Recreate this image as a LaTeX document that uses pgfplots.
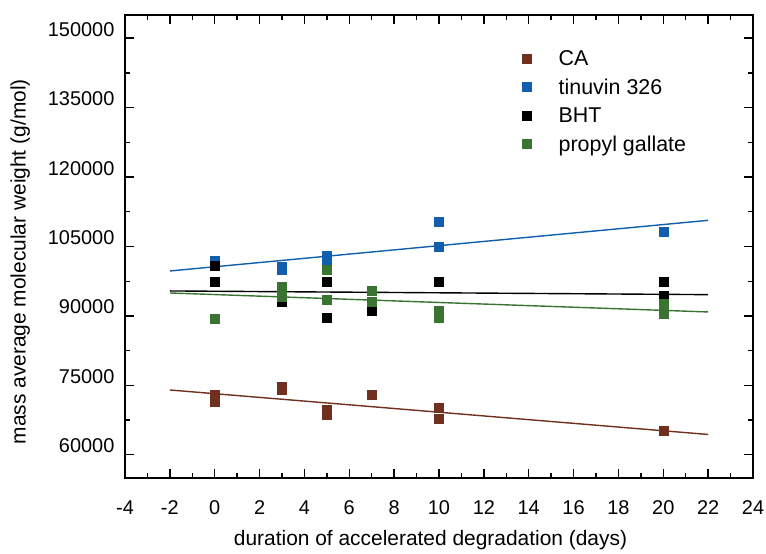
\documentclass[border=0pt]{standalone}
\usepackage{pgfplots}
\pgfplotsset{compat=1.18}
\usepackage{fontspec}
\setmainfont{Liberation Sans}

\definecolor{caBrown}{RGB}{112,48,30}
\definecolor{tinBlue}{RGB}{16,94,172}
\definecolor{pgGreen}{RGB}{58,115,50}

\newcommand{\legtxt}[1]{\rule[-7bp]{0pt}{27.7bp}#1}
% y tick labels sit a little above their ticks in the original
\newcommand{\ylab}[1]{\node[anchor=base east, inner sep=0pt, font=\fontsize{20}{24}\selectfont]
  at ([xshift=-10bp,yshift=2bp]axis cs:-4,#1) {#1};}

\begin{document}
\begin{tikzpicture}
\begin{axis}[
  scale only axis, width=628bp, height=463bp,
  xmin=-4, xmax=24, ymin=55000, ymax=155000,
  xtick={-4,-2,...,24}, minor x tick num=1,
  xticklabels={-4,-2,0,2,4,6,8,10,12,14,16,18,20,22,24},
  ytick={60000,75000,...,150000}, minor y tick num=1,
  yticklabels={},
  scaled y ticks=false, scaled x ticks=false,
  tick align=inside,
  major tick length=9bp, minor tick length=5bp,
  every axis/.append style={line width=1.3bp},
  axis line style={line width=1.3bp},
  major tick style={black, line width=1.3bp},
  minor tick style={black, line width=1.3bp},
  tick label style={font=\fontsize{20}{24}\selectfont},
  xticklabel style={anchor=north, inner xsep=0pt, inner ysep=22bp},
  label style={font=\fontsize{21}{25}\selectfont},
  xlabel={duration of accelerated degradation (days)},
  ylabel={mass average molecular weight (g/mol)},
  xlabel style={at={(axis description cs:0.4865,-0.134)}, anchor=center},
  ylabel style={at={(axis description cs:-0.167,0.467)}, anchor=center},
  legend cell align=left,
  legend image code/.code={
    \node[inner sep=0pt, minimum width=9bp, minimum height=27.7bp] at (4.5bp,6.85bp) {};
    \draw[#1] plot coordinates {(4.5bp,-2bp)};},
  legend style={at={(axis description cs:0.632,0.957)}, anchor=north west,
    draw=none, fill=none, inner sep=0pt, row sep=-3.3bp, column sep=22bp,
    nodes={inner sep=0pt},
    font=\fontsize{21.5}{25}\selectfont},
  clip=false,
]
% measured points
\addplot[only marks, mark=square*, mark size=4.5bp, color=caBrown, mark options={line width=0.3bp}]
  coordinates {(0,72930) (0,71420) (3,74660) (3,74010) (5,69690) (5,68610)
               (7,72930) (10,70120) (10,67740) (20,65150)};
\addlegendentry{\legtxt{CA}}
\addplot[only marks, mark=square*, mark size=4.5bp, color=tinBlue, mark options={line width=0.3bp}]
  coordinates {(0,101870) (3,100580) (3,99930) (5,102950) (5,101660)
               (10,110300) (10,104900) (20,108240)};
\addlegendentry{\legtxt{tinuvin 326}}
\addplot[only marks, mark=square*, mark size=4.5bp, color=black, mark options={line width=0.3bp}]
  coordinates {(0,100790) (0,97340) (3,93000) (5,97340) (5,89670)
               (7,91070) (10,97340) (20,97340) (20,94310)};
\addlegendentry{\legtxt{BHT}}
\addplot[only marks, mark=square*, mark size=4.5bp, color=pgGreen, mark options={line width=0.3bp}]
  coordinates {(0,89450) (3,96250) (3,94100) (5,99930) (5,93450)
               (7,95390) (7,93120) (10,91070) (10,89560) (20,92580) (20,90420)};
\addlegendentry{\legtxt{propyl gallate}}
% linear fits
\addplot[caBrown, line width=1.4bp, forget plot] coordinates {(-2,74010) (22,64400)};
\addplot[tinBlue, line width=1.4bp, forget plot] coordinates {(-2,99710) (22,110650)};
\addplot[black, line width=1.4bp, forget plot] coordinates {(-2,95400) (22,94600)};
\addplot[pgGreen, line width=1.4bp, forget plot] coordinates {(-2,94960) (22,90860)};
% y tick labels
\ylab{60000}\ylab{75000}\ylab{90000}\ylab{105000}\ylab{120000}\ylab{135000}\ylab{150000}
\end{axis}
\path (current axis.south west) ++(-125bp,-72bp) rectangle ++(766bp,550bp);
\end{tikzpicture}
\end{document}
